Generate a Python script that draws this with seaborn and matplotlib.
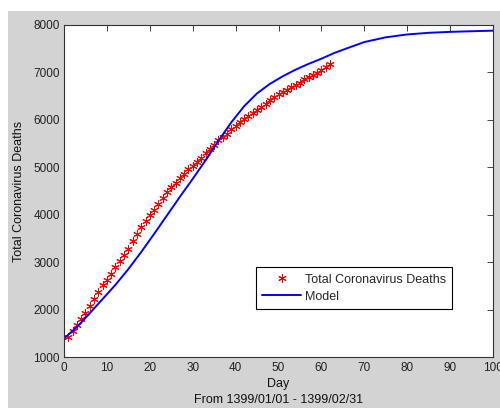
import matplotlib
matplotlib.use('Agg')
import matplotlib.pyplot as plt
from matplotlib.patches import Rectangle
import seaborn as sns

# total deaths, day 1 .. 62 (1399/01/01 - 1399/02/31)
days = list(range(1, 63))
deaths = [1433, 1556, 1685, 1812, 1934, 2077, 2234, 2378, 2517, 2640,
          2757, 2898, 3036, 3160, 3294, 3452, 3603, 3739, 3872, 3993,
          4110, 4232, 4357, 4474, 4585, 4683, 4777, 4869, 4958, 5031,
          5118, 5209, 5297, 5391, 5481, 5574, 5650, 5710, 5806, 5877,
          5957, 6028, 6091, 6156, 6203, 6277, 6340, 6418, 6486, 6541,
          6589, 6640, 6685, 6733, 6783, 6854, 6902, 6937, 6988, 7057,
          7119, 7183]

# model curve
model_days = [0, 3, 6, 9, 12, 15, 18, 21, 24, 27, 30, 33, 36, 39, 42, 45,
              48, 51, 54, 57, 60, 63, 66, 70, 75, 80, 85, 90, 95, 100]
model_deaths = [1400, 1640, 1930, 2230, 2530, 2860, 3220, 3600, 3990, 4380,
                4760, 5150, 5560, 5950, 6290, 6560, 6760, 6920, 7060, 7180,
                7290, 7410, 7510, 7640, 7740, 7800, 7835, 7855, 7868, 7880]

xticks = list(range(0, 101, 10))
yticks = list(range(1000, 8001, 1000))

sns.set_style('white')
plt.rcParams['font.family'] = ['Liberation Sans', 'DejaVu Sans']

fig = plt.figure(figsize=(5, 4.08), dpi=100, facecolor='white')
# grey matlab-like figure area (screenshot has a white strip top/left)
fig.patches.append(Rectangle((8 / 500, 0), 1, 1 - 11 / 408,
                             transform=fig.transFigure, facecolor='#d3d3d3',
                             edgecolor='none', zorder=-10))
ax = fig.add_axes([0.128, 0.1238, 0.858, 0.815])
ax.set_facecolor('white')

sns.lineplot(x=days, y=deaths, ax=ax, color='red', marker=(6, 2, 0),
             linestyle='', markersize=6, markeredgewidth=0.75,
             markeredgecolor='red', label='Total Coronavirus Deaths')
sns.lineplot(x=model_days, y=model_deaths, ax=ax, color='blue',
             linewidth=1.4, label='Model')

ax.set_xlim(0, 100)
ax.set_ylim(1000, 8000)
ax.set_xticks(xticks)
ax.set_yticks(yticks)
ax.tick_params(direction='in', top=True, right=True, length=4, width=0.6,
               labelsize=8.5, pad=3, colors='#222222')
for s in ax.spines.values():
    s.set_visible(True)
    s.set_color('#333333')
    s.set_linewidth(0.8)

ax.set_xlabel('Day\nFrom 1399/01/01 - 1399/02/31', fontsize=9,
              linespacing=1.45, labelpad=3, color='#111111')
ax.set_ylabel('Total Coronavirus Deaths', fontsize=9, labelpad=6,
              color='#111111')

leg = ax.legend(loc='lower left', bbox_to_anchor=(0.4476, 0.146),
                borderaxespad=0, fancybox=False, edgecolor='black',
                framealpha=1, fontsize=9, handlelength=3.1,
                handletextpad=0.3, borderpad=0.5, labelspacing=0.4)
leg.get_frame().set_linewidth(0.8)

fig.savefig('out.png', dpi=100)
